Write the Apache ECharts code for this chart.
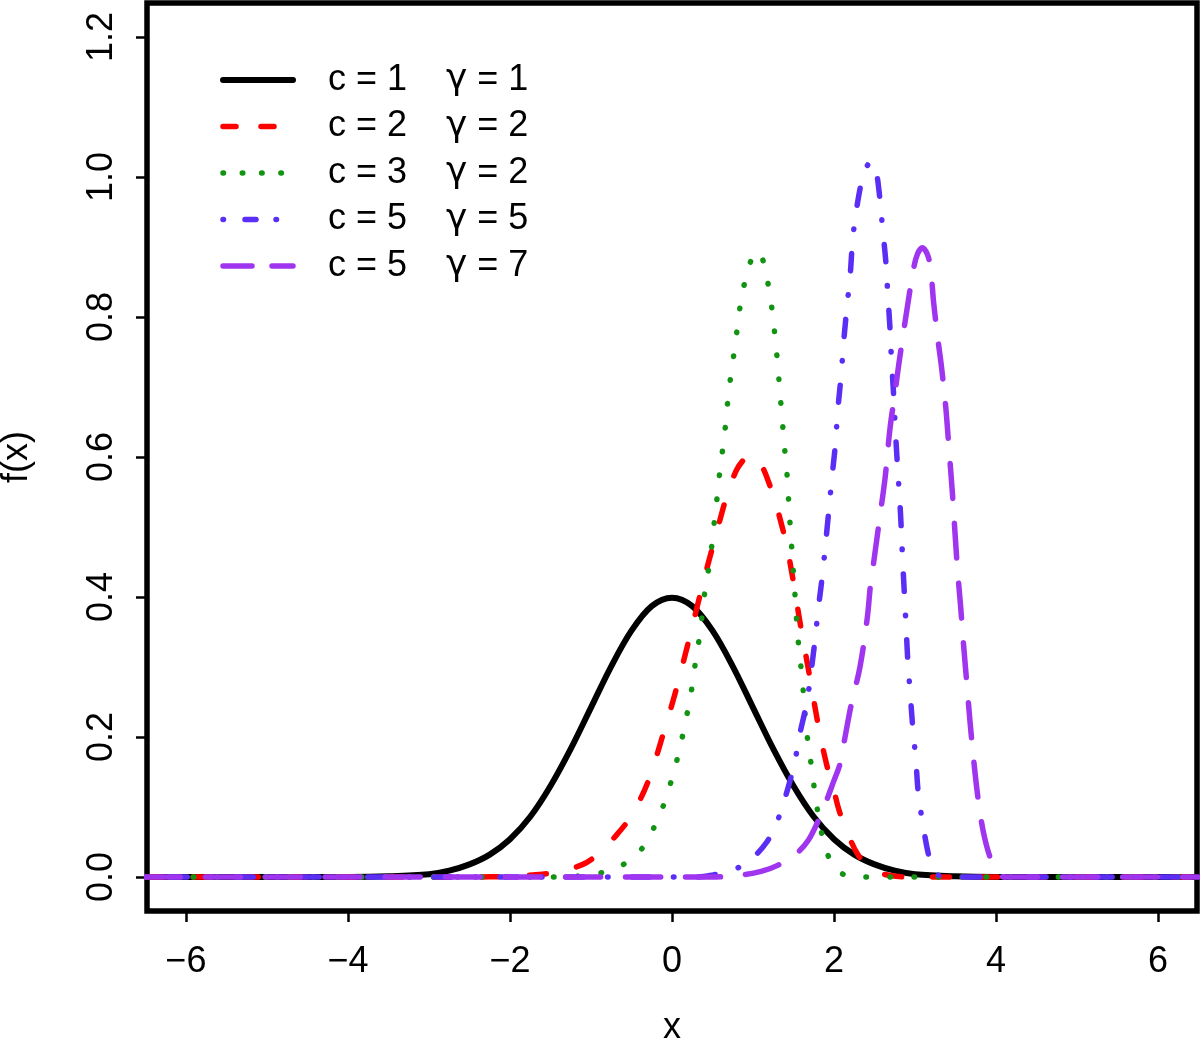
<!DOCTYPE html>
<html><head><meta charset="utf-8">
<script src="https://cdn.jsdelivr.net/npm/echarts@6.0.0/dist/echarts.min.js"></script>
<style>html,body{margin:0;padding:0;background:#fff}#chart{width:1200px;height:1048px}</style>
</head><body><div id="chart"></div>
<script>
// ---- data ----
const xTicks = [-6, -4, -2, 0, 2, 4, 6];
const yTicks = [0, 0.2, 0.4, 0.6, 0.8, 1.0, 1.2];

const legendC = ['c = 1', 'c = 2', 'c = 3', 'c = 5', 'c = 5'];
const legendG = ['1', '2', '2', '5', '7'];

// c = 1, gamma = 1 (black, solid)
const x1 = [-6.5,-4,-3.5,-3,-2.75,-2.5,-2.25,-2,-1.75,-1.5,-1.25,-1,-0.75,-0.5,-0.25,0,0.25,0.5,0.75,1,1.25,1.5,1.75,2,2.25,2.5,2.75,3,3.5,4,6.5];
const y1 = [0,0.0001,0.001,0.004,0.009,0.018,0.032,0.054,0.086,0.13,0.183,0.242,0.301,0.352,0.387,0.399,0.387,0.352,0.301,0.242,0.183,0.13,0.086,0.054,0.032,0.018,0.009,0.004,0.001,0.0001,0];

// c = 2, gamma = 2 (red, dashed)
const x2 = [-6.5,-2.5,-2.0,-1.6,-1.4,-1.1,-0.9,-0.67,-0.5,-0.3,-0.12,0.04,0.19,0.31,0.44,0.51,0.62,0.69,0.8,0.9,0.97,1.05,1.12,1.19,1.27,1.36,1.42,1.48,1.52,1.59,1.70,1.81,1.91,1.98,2.06,2.16,2.30,2.48,2.7,3.0,6.5];
const y2 = [0,0,0.001,0.004,0.008,0.018,0.034,0.062,0.088,0.135,0.2,0.263,0.33,0.386,0.445,0.475,0.522,0.55,0.582,0.598,0.603,0.598,0.585,0.565,0.538,0.5,0.471,0.434,0.406,0.357,0.286,0.214,0.16,0.133,0.096,0.065,0.031,0.01,0.002,0,0];

// c = 3, gamma = 2 (green, dotted)
const x3 = [-6.5,-1.5,-1.1,-0.78,-0.52,-0.31,-0.19,-0.07,0.01,0.09,0.15,0.21,0.26,0.30,0.35,0.38,0.42,0.47,0.52,0.57,0.60,0.64,0.67,0.70,0.74,0.78,0.82,0.86,0.93,0.99,1.05,1.11,1.16,1.21,1.25,1.28,1.31,1.33,1.36,1.38,1.41,1.43,1.46,1.49,1.51,1.53,1.55,1.58,1.61,1.66,1.70,1.74,1.78,1.83,1.90,2.04,2.3,6.5];
const y3 = [0,0,0.002,0.009,0.024,0.05,0.08,0.113,0.146,0.18,0.213,0.247,0.281,0.316,0.35,0.384,0.419,0.453,0.505,0.556,0.59,0.623,0.657,0.693,0.727,0.761,0.796,0.83,0.863,0.885,0.894,0.885,0.863,0.83,0.796,0.761,0.727,0.693,0.657,0.623,0.59,0.556,0.5,0.45,0.416,0.383,0.347,0.313,0.279,0.21,0.176,0.141,0.107,0.073,0.039,0.009,0,0];

// c = 5, gamma = 5 (blue, dot-dash)
const x4 = [-6.5,0.3,0.51,0.74,0.98,1.17,1.29,1.38,1.46,1.52,1.57,1.63,1.67,1.75,1.81,1.86,1.92,1.98,2.01,2.05,2.09,2.12,2.16,2.20,2.23,2.28,2.36,2.42,2.47,2.52,2.56,2.60,2.64,2.665,2.69,2.71,2.735,2.755,2.78,2.82,2.85,2.89,2.91,2.94,2.97,3.01,3.04,3.10,3.16,3.22,3.35,6.5];
const y4 = [0,0,0.003,0.009,0.026,0.05,0.077,0.107,0.139,0.167,0.2,0.231,0.253,0.324,0.387,0.435,0.505,0.577,0.61,0.671,0.72,0.766,0.815,0.861,0.91,0.956,1.003,1.018,1.022,1.008,0.975,0.926,0.878,0.83,0.785,0.737,0.69,0.643,0.593,0.52,0.445,0.357,0.31,0.263,0.216,0.167,0.12,0.073,0.035,0.012,0,0];

// c = 5, gamma = 7 (purple, long dash)
const x5 = [-6.5,0.5,0.86,1.1,1.31,1.54,1.68,1.80,1.91,2.0,2.07,2.12,2.21,2.32,2.41,2.45,2.49,2.56,2.63,2.69,2.75,2.80,2.86,2.91,2.98,3.03,3.09,3.15,3.19,3.23,3.28,3.33,3.38,3.42,3.46,3.52,3.56,3.60,3.64,3.68,3.73,3.78,3.84,3.92,4.0,4.1,6.5];
const y5 = [0,0,0.003,0.008,0.017,0.034,0.052,0.079,0.11,0.138,0.16,0.19,0.245,0.30,0.37,0.417,0.45,0.51,0.57,0.64,0.69,0.733,0.78,0.818,0.868,0.89,0.899,0.89,0.871,0.82,0.77,0.725,0.67,0.61,0.55,0.445,0.39,0.33,0.275,0.22,0.16,0.11,0.066,0.03,0.01,0,0];

// ---- styling ----
const FONT = '"Liberation Sans", Arial, Helvetica, sans-serif';
const GFONT = '"DejaVu Sans", "Liberation Sans", sans-serif';
const FS = 36;
const colors = ['#000000', '#FF0000', '#129412', '#5B2EF6', '#A035F0'];
const widths = [6, 5.5, 5.5, 5.5, 5.5];
const dashes = ['solid', [17, 31], [0.5, 23.5], [0.5, 24, 17.5, 24], [35, 25]];
const legendDashes = ['solid', [13, 25], [0.5, 18.8], [0.5, 21.5, 11, 20], [29, 20]];
const names = legendC.map((c, i) => c + '   \u03B3 = ' + legendG[i]);
const xs = [x1, x2, x3, x4, x5];
const ys = [y1, y2, y3, y4, y5];

const series = names.map((n, i) => ({
  type: 'line',
  name: n,
  data: xs[i].map((x, k) => [x, ys[i][k]]),
  symbol: 'none',
  smooth: 0.35,
  clip: true,
  silent: true,
  lineStyle: { color: colors[i], width: widths[i], type: dashes[i], cap: 'round', join: 'round' },
  itemStyle: { color: colors[i] },
  emphasis: { disabled: true }
}));

const chart = echarts.init(document.getElementById('chart'), null, { renderer: 'canvas' });
chart.setOption({
  animation: false,
  backgroundColor: '#ffffff',
  grid: { left: 147, right: 3, top: 3, bottom: 137, show: true, borderColor: '#000', borderWidth: 5.5,
    backgroundColor: 'transparent', containLabel: false, outerBoundsMode: 'none' },
  xAxis: {
    type: 'value', min: -6.48, max: 6.48,
    axisLine: { show: false, onZero: false }, splitLine: { show: false },
    axisTick: { show: true, length: 11, lineStyle: { width: 2.5, color: '#000' }, customValues: xTicks },
    axisLabel: { customValues: xTicks, fontSize: FS, fontFamily: FONT, color: '#000', margin: 33,
      formatter: v => (v < 0 ? '\u2212' + Math.abs(v) : String(v)) },
    name: 'x', nameLocation: 'middle', nameGap: 99.5,
    nameTextStyle: { fontSize: FS, fontFamily: FONT, color: '#000' }
  },
  yAxis: {
    type: 'value', min: -0.0486, max: 1.2486,
    axisLine: { show: false, onZero: false }, splitLine: { show: false },
    axisTick: { show: true, length: 11, lineStyle: { width: 2.5, color: '#000' }, customValues: yTicks },
    axisLabel: { customValues: yTicks, rotate: 90, fontSize: FS, fontFamily: FONT, color: '#000', margin: 27,
      formatter: v => v.toFixed(1) },
    name: 'f(x)', nameLocation: 'middle', nameGap: 112, nameRotate: 90,
    nameTextStyle: { fontSize: FS, fontFamily: FONT, color: '#000' }
  },
  legend: {
    orient: 'vertical', left: 220, top: 62, padding: 0,
    itemWidth: 70, itemHeight: 20, itemGap: 10.5,
    selectedMode: false,
    itemStyle: { color: 'rgba(0,0,0,0)', borderWidth: 0, opacity: 0 },
    data: names.map((n, i) => ({ name: n, lineStyle: { type: legendDashes[i], width: widths[i], cap: 'round', color: colors[i] } })),
    formatter: n => { const i = names.indexOf(n); return '{s| }{a|' + legendC[i] + '}{g|\u03B3}{b| = ' + legendG[i] + '}'; },
    textStyle: {
      fontSize: FS, fontFamily: FONT, color: '#000', lineHeight: 36,
      rich: {
        s: { width: 30, fontSize: FS, lineHeight: 36 },
        a: { width: 118, fontSize: FS, fontFamily: FONT, lineHeight: 36 },
        g: { fontSize: FS, fontFamily: GFONT, lineHeight: 36 },
        b: { fontSize: FS, fontFamily: FONT, lineHeight: 36 }
      }
    }
  },
  series: series
});
</script></body></html>
